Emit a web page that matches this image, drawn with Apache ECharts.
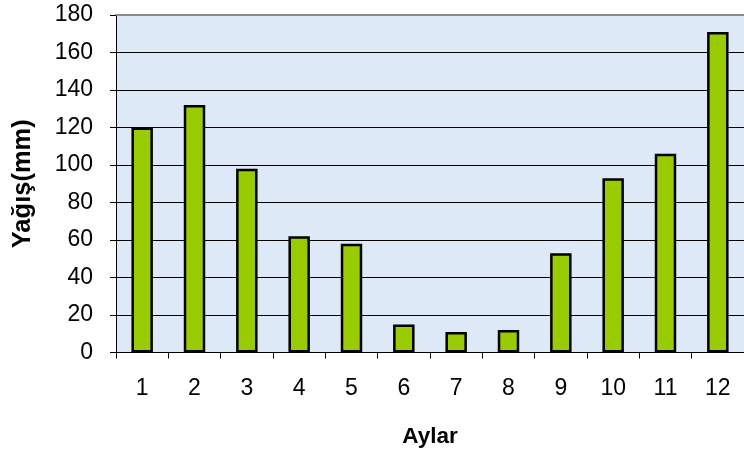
<!DOCTYPE html>
<html>
<head>
<meta charset="utf-8">
<style>
  html, body { margin: 0; padding: 0; background: #ffffff; }
  #chart { width: 744px; height: 456px; }
</style>
<script src="https://cdn.jsdelivr.net/npm/echarts@6/dist/echarts.min.js"></script>
</head>
<body>
<div id="chart"></div>
<script>
// Monthly rainfall (mm)
const months = ['1', '2', '3', '4', '5', '6', '7', '8', '9', '10', '11', '12'];
const rainfall = [120, 132, 98, 62, 58, 15, 11, 12, 53, 93, 106, 171];
const yTicks = { min: 0, max: 180, interval: 20 };

const FONT = '"Liberation Sans", Arial, sans-serif';

const chart = echarts.init(document.getElementById('chart'), null, { renderer: 'canvas' });

chart.setOption({
  animation: false,
  grid: {
    left: 116,
    right: -8,
    top: 15,
    bottom: 103.5,
    show: true,
    backgroundColor: '#dde9f7',
    borderWidth: 0
  },
  xAxis: [
    {
      type: 'category',
      data: months,
      name: 'Aylar',
      nameLocation: 'middle',
      nameGap: 73,
      nameTextStyle: { fontFamily: FONT, fontSize: 22.5, fontWeight: 'bold', color: '#000' },
      axisLine: { show: true, lineStyle: { color: '#000', width: 1 } },
      axisTick: { show: true, length: 6, lineStyle: { color: '#000' } },
      axisLabel: { margin: 25, fontFamily: FONT, fontSize: 23, color: '#000' }
    },
    {
      // top frame line of the plot area
      type: 'category',
      position: 'top',
      data: months,
      axisLine: { show: true, lineStyle: { color: '#8a8a8a', width: 2 } },
      axisTick: { show: false },
      axisLabel: { show: false }
    }
  ],
  yAxis: {
    type: 'value',
    min: yTicks.min,
    max: yTicks.max,
    interval: yTicks.interval,
    name: 'Yağış(mm)',
    nameLocation: 'middle',
    nameGap: 80,
    nameTextStyle: { fontFamily: FONT, fontSize: 25.5, fontWeight: 'bold', color: '#000' },
    axisLine: { show: true, lineStyle: { color: '#000', width: 1 } },
    axisTick: { show: true, length: 6, lineStyle: { color: '#000' } },
    axisLabel: { margin: 23, fontFamily: FONT, fontSize: 23, color: '#000' },
    splitLine: { show: true, lineStyle: { color: '#000', width: 1 } }
  },
  series: [
    {
      type: 'bar',
      data: rainfall,
      barWidth: '41%',
      itemStyle: { color: '#99cc00', borderColor: '#000', borderWidth: 2.5 }
    }
  ]
});
</script>
</body>
</html>
